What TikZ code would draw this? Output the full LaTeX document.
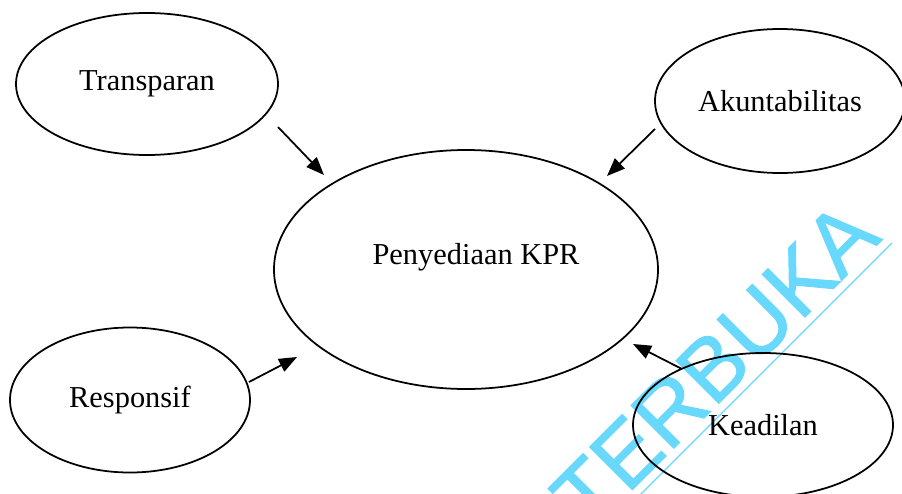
\documentclass[tikz,border=0pt]{standalone}
\usepackage{fontspec}
\setmainfont{Liberation Serif}
\newfontfamily\wmfont[FakeBold=1.2]{Liberation Sans}
\usepackage{tikz}
\usepackage{xcolor}
\usetikzlibrary{arrows.meta,positioning,shapes.geometric}
\definecolor{wmcyan}{HTML}{68D8FC}

\begin{document}
\begin{tikzpicture}[
  bubble/.style   ={ellipse, draw=black, line width=1pt, inner sep=0pt, font=\fontsize{17.3}{20}\selectfont},
  inArrow/.style  ={-{Triangle[length=3.6mm, width=2.8mm]}, line width=1pt},
]
\clip (0,0) rectangle (18.04,9.86);

% watermark behind everything
\node[font=\wmfont\fontsize{50}{54}\selectfont, text=wmcyan, rotate=45] (wm) at (14.30,2.56) {TERBUKA};
\coordinate (wmA) at (17.84,5.00);
\coordinate (wmB) at (12.70,-0.14);
\draw[wmcyan, line width=0.7pt] (wmA) -- (wmB);

% factors and the central node
\node[bubble, minimum width=7.68cm, minimum height=4.78cm,
      label={[font=\fontsize{17.3}{20}\selectfont, xshift=2mm, yshift=2.5mm]center:Penyediaan KPR}] (kpr) at (9.32,4.47) {};
\node[bubble, minimum width=5.24cm, minimum height=2.84cm] (trans) at (2.94,8.18) {Transparan};
\node[bubble, minimum width=5.00cm, minimum height=2.88cm] (akun) at (15.60,7.84) {Akuntabilitas};
\node[bubble, minimum width=4.80cm, minimum height=2.90cm] (resp) at (2.60,1.86) {Responsif};
\node[bubble, minimum width=5.20cm, minimum height=2.88cm] (adil) at (15.26,1.36) {Keadilan};

% arrows stand free between the ellipses
\coordinate (transOut) at (5.56,7.32);  \coordinate (transIn) at (6.48,6.36);
\coordinate (akunOut)  at (13.10,7.28); \coordinate (akunIn)  at (12.14,6.34);
\coordinate (respOut)  at (4.98,2.22);  \coordinate (respIn)  at (5.94,2.72);
\coordinate (adilOut)  at (13.64,2.48); \coordinate (adilIn)  at (12.66,2.98);
\draw[inArrow] (transOut) -- (transIn);
\draw[inArrow] (akunOut) -- (akunIn);
\draw[inArrow] (respOut) -- (respIn);
\draw[inArrow] (adilOut) -- (adilIn);
\end{tikzpicture}
\end{document}
